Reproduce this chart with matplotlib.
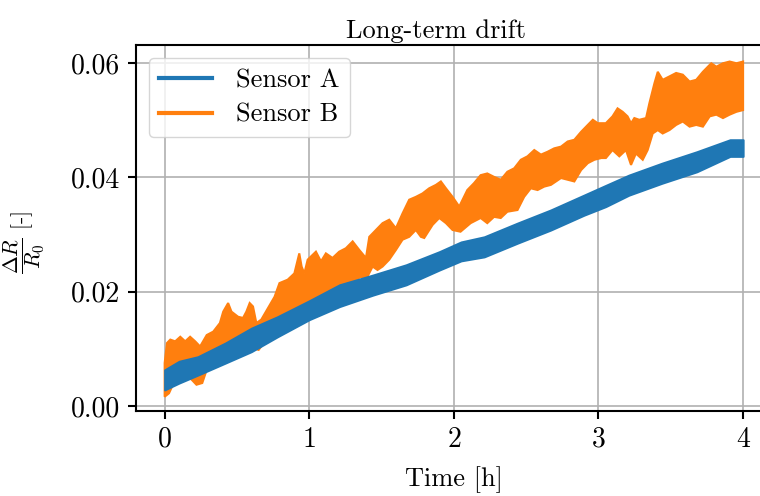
import matplotlib
matplotlib.use("Agg")
import matplotlib.pyplot as plt
from matplotlib.lines import Line2D

plt.rcParams['font.family'] = 'serif'
plt.rcParams['font.serif'] = ['cmr10']
plt.rcParams['mathtext.fontset'] = 'cm'
plt.rcParams['axes.formatter.use_mathtext'] = True

# Sensor A envelope (time [h], lower, upper)
t_a = [0.0, 0.1, 0.23, 0.42, 0.6, 0.78, 1.0, 1.21, 1.44, 1.67, 1.9, 2.05,
       2.21, 2.44, 2.67, 2.9, 3.05, 3.21, 3.44, 3.68, 3.91, 4.0]
lo_a = [0.0028, 0.0040, 0.0054, 0.0075, 0.0095, 0.0121, 0.0151, 0.0174, 0.0194,
        0.0212, 0.0238, 0.0254, 0.0261, 0.0285, 0.0308, 0.0334, 0.0349, 0.0369,
        0.0390, 0.0410, 0.0437, 0.0437]
hi_a = [0.0063, 0.0078, 0.0086, 0.0110, 0.0136, 0.0156, 0.0184, 0.0212, 0.0229,
        0.0247, 0.0270, 0.0287, 0.0296, 0.0320, 0.0343, 0.0369, 0.0386, 0.0404,
        0.0425, 0.0445, 0.0466, 0.0466]

# Sensor B upper edge (time [h], value)
t_b_hi = [0.0, 0.016, 0.039, 0.073, 0.108, 0.142, 0.176, 0.211, 0.245, 0.291,
          0.336, 0.382, 0.405, 0.439, 0.462, 0.508, 0.542, 0.565, 0.588, 0.611,
          0.634, 0.668, 0.714, 0.760, 0.794, 0.851, 0.897, 0.931, 0.947, 0.966,
          0.989, 1.046, 1.081, 1.115, 1.161, 1.207, 1.253, 1.300, 1.346, 1.392,
          1.415, 1.461, 1.507, 1.553, 1.599, 1.645, 1.691, 1.737, 1.783, 1.829,
          1.876, 1.910, 1.945, 1.991, 2.037, 2.093, 2.139, 2.185, 2.231, 2.278,
          2.324, 2.370, 2.417, 2.463, 2.509, 2.556, 2.602, 2.648, 2.694, 2.741,
          2.787, 2.833, 2.880, 2.926, 2.961, 2.995, 3.051, 3.097, 3.132, 3.167,
          3.201, 3.225, 3.248, 3.282, 3.329, 3.352, 3.387, 3.410, 3.444, 3.491,
          3.537, 3.583, 3.630, 3.676, 3.722, 3.780, 3.815, 3.861, 3.907, 3.954,
          4.0]
hi_b = [0.0075, 0.0110, 0.0116, 0.0113, 0.0121, 0.0113, 0.0121, 0.0113, 0.0104,
        0.0124, 0.0130, 0.0145, 0.0165, 0.0180, 0.0165, 0.0156, 0.0154, 0.0165,
        0.0180, 0.0174, 0.0145, 0.0151, 0.0171, 0.0191, 0.0215, 0.0221, 0.0232,
        0.0267, 0.0244, 0.0232, 0.0256, 0.0270, 0.0253, 0.0267, 0.0259, 0.0270,
        0.0276, 0.0288, 0.0273, 0.0259, 0.0296, 0.0308, 0.0320, 0.0326, 0.0311,
        0.0337, 0.0361, 0.0366, 0.0372, 0.0381, 0.0387, 0.0393, 0.0381, 0.0366,
        0.0349, 0.0378, 0.0390, 0.0404, 0.0407, 0.0401, 0.0396, 0.0410, 0.0416,
        0.0431, 0.0437, 0.0448, 0.0440, 0.0445, 0.0451, 0.0454, 0.0463, 0.0466,
        0.0480, 0.0492, 0.0501, 0.0495, 0.0495, 0.0507, 0.0521, 0.0515, 0.0507,
        0.0495, 0.0504, 0.0501, 0.0504, 0.0530, 0.0565, 0.0585, 0.0571, 0.0577,
        0.0583, 0.0580, 0.0568, 0.0571, 0.0585, 0.0600, 0.0594, 0.0600, 0.0603,
        0.0600, 0.0603]

# Sensor B lower edge (time [h], value)
t_b_lo = [0.0, 0.03, 0.08, 0.15, 0.19, 0.22, 0.26, 0.30, 0.45, 0.60, 0.65,
          0.70, 0.80, 0.90, 1.0, 1.115, 1.184, 1.253, 1.323, 1.357, 1.392,
          1.438, 1.472, 1.507, 1.553, 1.599, 1.645, 1.691, 1.737, 1.772, 1.795,
          1.853, 1.899, 1.945, 1.991, 2.046, 2.116, 2.185, 2.231, 2.278, 2.324,
          2.370, 2.440, 2.486, 2.532, 2.579, 2.625, 2.671, 2.741, 2.787, 2.833,
          2.880, 2.926, 2.972, 3.019, 3.051, 3.097, 3.144, 3.190, 3.225, 3.259,
          3.306, 3.340, 3.375, 3.410, 3.444, 3.491, 3.537, 3.583, 3.630, 3.676,
          3.722, 3.769, 3.815, 3.861, 3.907, 3.954, 4.0]
lo_b = [0.0016, 0.0022, 0.0050, 0.0055, 0.0045, 0.0037, 0.0040, 0.0070, 0.0085,
        0.0102, 0.0098, 0.0115, 0.0140, 0.0160, 0.0180, 0.0197, 0.0209, 0.0215,
        0.0221, 0.0226, 0.0221, 0.0244, 0.0238, 0.0244, 0.0256, 0.0273, 0.0291,
        0.0296, 0.0308, 0.0296, 0.0294, 0.0317, 0.0329, 0.0320, 0.0308, 0.0305,
        0.0320, 0.0329, 0.0320, 0.0331, 0.0329, 0.0340, 0.0343, 0.0366, 0.0381,
        0.0378, 0.0384, 0.0387, 0.0399, 0.0396, 0.0393, 0.0413, 0.0425, 0.0431,
        0.0434, 0.0434, 0.0448, 0.0437, 0.0448, 0.0422, 0.0442, 0.0431, 0.0448,
        0.0477, 0.0483, 0.0477, 0.0483, 0.0492, 0.0498, 0.0489, 0.0492, 0.0489,
        0.0507, 0.0510, 0.0504, 0.0510, 0.0515, 0.0518]

labels = ['Sensor A', 'Sensor B']
colors = ['#1f77b4', '#ff7f0e']

fig = plt.figure(figsize=(7.6, 4.96), dpi=100)
ax = fig.add_axes([0.1786, 0.1714, 0.8372, 0.7379])

ax.fill(t_b_hi + t_b_lo[::-1], hi_b + lo_b[::-1], color=colors[1],
        lw=1.5, edgecolor=colors[1], zorder=2)
ax.fill_between(t_a, lo_a, hi_a, color=colors[0], lw=1.5,
                edgecolor=colors[0], zorder=3)

ax.set_xlim(-0.2, 4.2)
ax.set_ylim(-0.0009, 0.0632)
ax.set_xticks([0, 1, 2, 3, 4])
ax.set_yticks([0.0, 0.02, 0.04, 0.06])
ax.set_yticklabels(['0.00', '0.02', '0.04', '0.06'])
ax.grid(True, color='#b0b0b0', lw=1.2)
ax.set_axisbelow(True)
for s in ax.spines.values():
    s.set_linewidth(1.5)
ax.tick_params(axis='both', labelsize=20, width=1.5, length=6,
               direction='out', pad=5)

ax.set_title('Long-term drift', fontsize=19, pad=5, x=0.472)
ax.set_xlabel('Time [h]', fontsize=19, labelpad=10)
ax.set_ylabel(r'$\dfrac{\Delta R}{R_0}$ [-]', fontsize=15.5)
ax.yaxis.set_label_coords(-0.139, 0.46)

handles = [Line2D([], [], color=c, lw=3) for c in colors]
ax.legend(handles, labels, loc='upper left', fontsize=19, handlelength=2.0,
          handletextpad=0.9, labelspacing=0.4, borderpad=0.4, framealpha=0.8,
          edgecolor='#cccccc', borderaxespad=0.5)

fig.savefig('out.png', dpi=100)
